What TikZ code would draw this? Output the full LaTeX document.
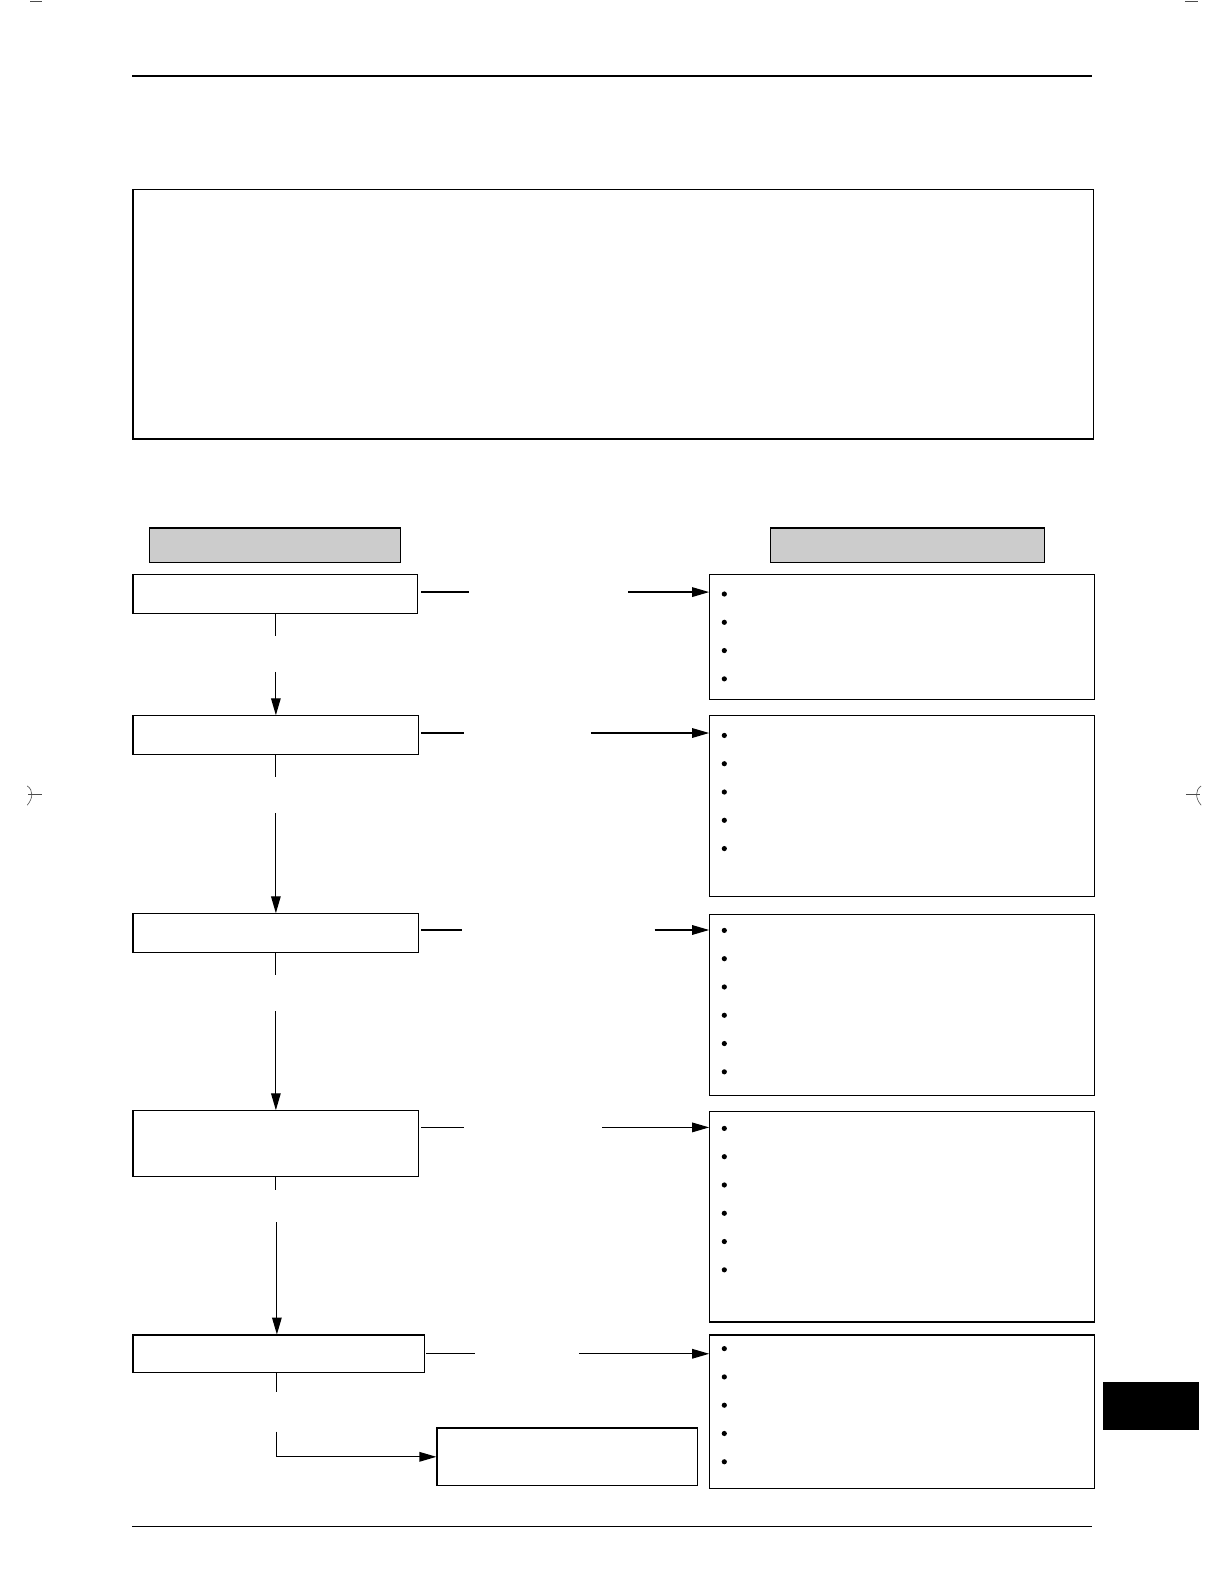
\documentclass[tikz,border=0pt]{standalone}
\usepackage{tikz}
\usetikzlibrary{arrows.meta}
\usetikzlibrary{positioning}
\usetikzlibrary{calc}
\def\pxunit{0.505bp}
\tikzset{box/.style = {draw, rectangle, anchor = north west, inner sep = 0, line width = 0.6pt}}
\tikzset{head/.style = {box, fill = black!20}}
\tikzset{boxsize/.style 2 args = {minimum width = #1*\pxunit, minimum height = #2*\pxunit}}
\tikzset{link/.style = {line width = 0.6pt}}
\tikzset{arr/.style = {link, -{Triangle[length = 8.5pt, width = 4.8pt]}}}
\tikzset{cropmark/.style = {line width = 0.3pt, black!70}}
\begin{document}
\begin{tikzpicture}[x = \pxunit, y = -\pxunit]
      \useasboundingbox (0, 0) rectangle (1212, 1568);
      % page rules and marks
      \draw [line width = 1.2pt] (131, 75) -- (1081, 75);
      \draw [line width = 0.6pt] (131, 1511) -- (1081, 1511);
      \draw [cropmark] (30, 1) -- (42, 1);
      \draw [cropmark] (1173, 1) -- (1186, 1);
      \draw [cropmark] (28, 786) -- (42, 786);
      \draw [cropmark] (27, 778) .. controls (33, 782) and (33, 790) .. (27, 797);
      \draw [cropmark] (1174, 786) -- (1188, 786);
      \draw [cropmark] (1189, 778) .. controls (1183, 782) and (1183, 790) .. (1189, 797);
      \fill (1092, 1368) rectangle (1187, 1416);
      \draw [blue!70!black, line width = 0.6pt] (126, 1575) -- (267, 1575);
      % boxes
      \node [box, boxsize = {951}{247}] (top) at (131, 187) {};
      \node [head, boxsize = {249}{34}] (hleft) at (147, 522) {};
      \node [head, boxsize = {271}{34}] (hright) at (762, 522) {};
      \node [box, boxsize = {282}{39}] (b1) at (131, 568) {};
      \node [box, boxsize = {283}{38}] (b2) at (131, 708) {};
      \node [box, boxsize = {283}{38}] (b3) at (131, 904) {};
      \node [box, boxsize = {283}{65}] (b4) at (131, 1099) {};
      \node [box, boxsize = {289}{37}] (b5) at (131, 1321) {};
      \node [box, boxsize = {258}{57}] (b6) at (432, 1413) {};
      \node [box, boxsize = {381}{124}] (r1) at (702, 568) {};
      \node [box, boxsize = {381}{179}] (r2) at (702, 708) {};
      \node [box, boxsize = {381}{179}] (r3) at (702, 905) {};
      \node [box, boxsize = {381}{208}] (r4) at (702, 1100) {};
      \node [box, boxsize = {381}{152}] (r5) at (702, 1321) {};
      % bullets
      \foreach \y in {588, 616, 644, 672, 728, 756, 784, 812, 840, 921, 949, 977, 1005, 1033, 1061,
                      1117, 1145, 1173, 1201, 1229, 1257, 1335, 1363, 1391, 1419, 1447} {
        \fill (717, \y) circle (1.3pt);
      }
      % down the left column
      \draw [link] (b1.south) -- ++(0, 21);
      \draw [arr] ($(b2.north) + (0, -43)$) -- (b2.north);
      \draw [link] (b2.south) -- ++(0, 22);
      \draw [arr] ($(b3.north) + (0, -99)$) -- (b3.north);
      \draw [link] (b3.south) -- ++(0, 22);
      \draw [arr] ($(b4.north) + (0, -98)$) -- (b4.north);
      \draw [link] (b4.south) -- ++(0, 13);
      \draw [arr] ($(b5.north) + (-2, -111)$) -- ($(b5.north) + (-2, 0)$);
      \draw [link] ($(b5.south) + (-2, 0)$) -- ++(0, 19);
      \draw [arr] ($(b5.south) + (-2, 58)$) |- (b6.west);
      % across to the right column
      \coordinate (c1) at ($(b1.east) + (0, -2)$);
      \draw [link] ($(c1) + (3, 0)$) -- ++(47, 0);
      \draw [arr] ($(c1 -| r1.west) + (-80, 0)$) -- (c1 -| r1.west);
      \coordinate (c2) at ($(b2.east) + (0, -2)$);
      \draw [link] ($(c2) + (2, 0)$) -- ++(42, 0);
      \draw [arr] ($(c2 -| r2.west) + (-117, 0)$) -- (c2 -| r2.west);
      \coordinate (c3) at ($(b3.east) + (0, -3)$);
      \draw [link] ($(c3) + (2, 0)$) -- ++(40, 0);
      \draw [arr] ($(c3 -| r3.west) + (-54, 0)$) -- (c3 -| r3.west);
      \coordinate (c4) at ($(b4.north east) + (0, 17)$);
      \draw [link] ($(c4) + (2, 0)$) -- ++(42, 0);
      \draw [arr] ($(c4 -| r4.west) + (-106, 0)$) -- (c4 -| r4.west);
      \draw [link] ($(b5.east) + (1, 0)$) -- ++(48, 0);
      \draw [arr] ($(b5.east -| r5.west) + (-129, 0)$) -- (b5.east -| r5.west);
    \end{tikzpicture}
\end{document}
